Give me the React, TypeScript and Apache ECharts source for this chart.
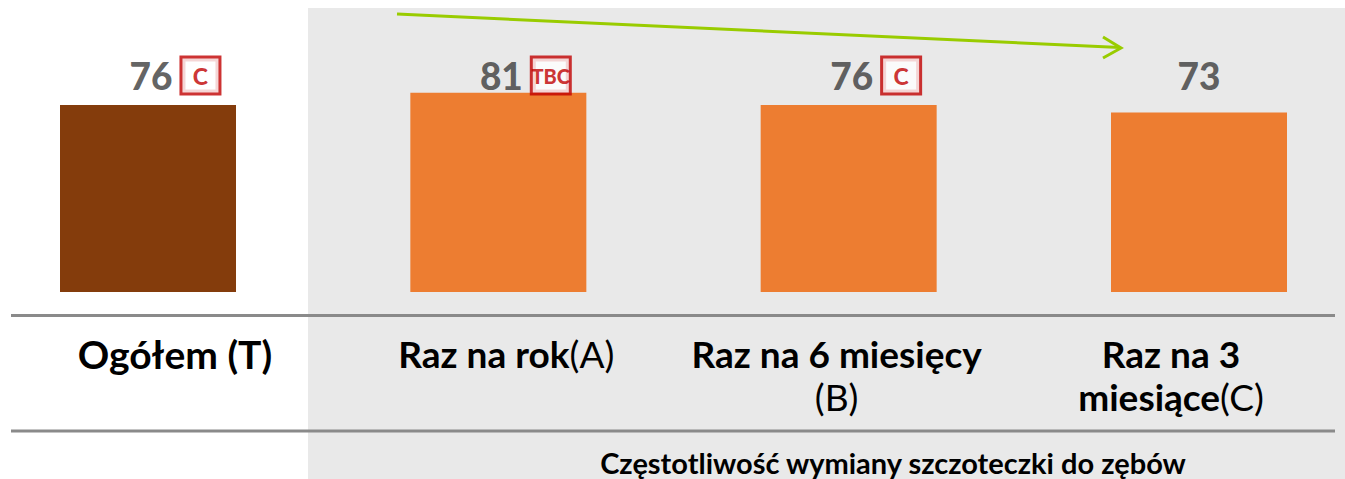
import React, { useEffect, useRef } from "react";
import * as echarts from "echarts";

// ---- data ----
const categories: string[] = [
  "Ogółem (T)",
  "Raz na rok(A)",
  "Raz na 6 miesięcy\n(B)",
  "Raz na 3\nmiesiące(C)",
];
const values: number[] = [76, 81, 76, 73];
const significance: string[] = ["C", "TBC", "C", ""];
const axisTitle = "Częstotliwość wymiany szczoteczki do zębów";

const FONT = "Lato, 'Noto Sans', sans-serif";
const LABEL_ANCHOR = 88; // y (in data units) where the value labels sit
const labelShift = [27, 8, -12, -28];

function buildAxisLabels() {
  const rich: Record<string, any> = {};
  const texts: string[] = [];
  categories.forEach((cat, ci) => {
    const lines = cat.split("\n");
    const d = labelShift[ci];
    const out = lines.map((line, li) => {
      const m = ci > 0 ? line.match(/^(.*?)(\([A-Z]\))$/) : null;
      const frags: [string, boolean][] = [];
      if (m) {
        if (m[1]) frags.push([m[1], true]);
        frags.push([m[2], false]);
      } else frags.push([line, true]);
      return frags
        .map(([t, bold], fi) => {
          const key = `c${ci}l${li}f${fi}`;
          const padL = fi === 0 && d > 0 ? 2 * d : 0;
          const padR = fi === frags.length - 1 && d < 0 ? -2 * d : 0;
          rich[key] = {
            fontFamily: FONT,
            fontWeight: bold ? "bold" : "normal",
            fontSize: ci === 0 ? 39 : 37,
            lineHeight: 43,
            color: "#000",
            padding: [0, padR, 0, padL],
          };
          return `{${key}|${t}}`;
        })
        .join("");
    });
    texts.push(out.join("\n"));
  });
  return { rich, texts };
}

export default function App() {
  const ref = useRef<HTMLDivElement>(null);
  useEffect(() => {
    if (!ref.current) return;
    const chart = echarts.init(ref.current, undefined, { renderer: "svg" });
    const { rich, texts } = buildAxisLabels();
    const boxBase = {
      fontFamily: FONT,
      fontWeight: 900,
      color: "#c00000",
      backgroundColor: "#fff",
      borderColor: "#c00000",
      borderWidth: 3,
      width: 36,
      height: 34,
      lineHeight: 34,
      align: "center",
      verticalAlign: "middle",
    };
    const numBase = {
      fontFamily: FONT,
      fontWeight: 900,
      fontSize: 37,
      color: "#3a3a3a",
      lineHeight: 38,
    };
    const option: any = {
      animation: false,
      grid: { left: 148, right: 146, top: 46, bottom: 187 },
      xAxis: {
        type: "category",
        data: categories,
        boundaryGap: false,
        axisLine: { show: false },
        axisTick: { show: false },
        splitLine: { show: false },
        axisLabel: {
          interval: 0,
          margin: 40,
          formatter: (_v: string, idx: number) => texts[idx],
          rich,
        },
      },
      yAxis: {
        type: "value",
        min: 0,
        max: 100,
        show: false,
        splitLine: { show: false },
      },
      graphic: [
        {
          type: "rect",
          z: -10,
          silent: true,
          shape: { x: 308, y: 8, width: 1037, height: 471 },
          style: { fill: "#e9e9e9" },
        },
        {
          type: "line",
          z: 50,
          shape: { x1: 11, y1: 315.5, x2: 1335, y2: 315.5 },
          style: { stroke: "#8a8a8a", lineWidth: 3 },
        },
        {
          type: "line",
          z: 50,
          shape: { x1: 11, y1: 431, x2: 1335, y2: 431 },
          style: { stroke: "#8a8a8a", lineWidth: 3 },
        },
        {
          type: "line",
          z: 50,
          shape: { x1: 397, y1: 14, x2: 1120, y2: 47.5 },
          style: { stroke: "#99cc00", lineWidth: 3 },
        },
        {
          type: "polyline",
          z: 50,
          shape: { points: [[1103, 37], [1121, 48], [1103, 58]] },
          style: { stroke: "#99cc00", lineWidth: 3, fill: null },
        },
        {
          type: "text",
          z: 50,
          x: 893,
          y: 462,
          style: {
            text: axisTitle,
            fontFamily: FONT,
            fontWeight: "bold",
            fontSize: 29,
            fill: "#000",
            align: "center",
            verticalAlign: "middle",
          },
        },
      ],
      series: [
        {
          type: "bar",
          barWidth: 176,
          clip: false,
          data: values.map((v, i) => ({
            value: v,
            itemStyle: { color: i === 0 ? "#843c0c" : "#ed7d31" },
          })),
        },
        {
          type: "scatter",
          clip: false,
          symbolSize: 1,
          itemStyle: { color: "transparent" },
          data: values.map((_v, i) => [i, LABEL_ANCHOR]),
          label: {
            show: true,
            position: "inside",
            formatter: (p: any) => {
              const v = values[p.dataIndex];
              const f = significance[p.dataIndex];
              if (!f) return `{v|${v}}`;
              return `{vb|${v}}{${f.length > 1 ? "boxs" : "box"}|${f}}`;
            },
            rich: {
              v: numBase,
              vb: { ...numBase, padding: [0, 10, 0, 52] },
              box: { ...boxBase, fontSize: 23 },
              boxs: { ...boxBase, fontSize: 20 },
            },
          },
        },
      ],
    };
    chart.setOption(option);
    return () => chart.dispose();
  }, []);
  return (
    <div
      ref={ref}
      style={{ position: "absolute", left: 0, top: 0, width: 1345, height: 479 }}
    />
  );
}
